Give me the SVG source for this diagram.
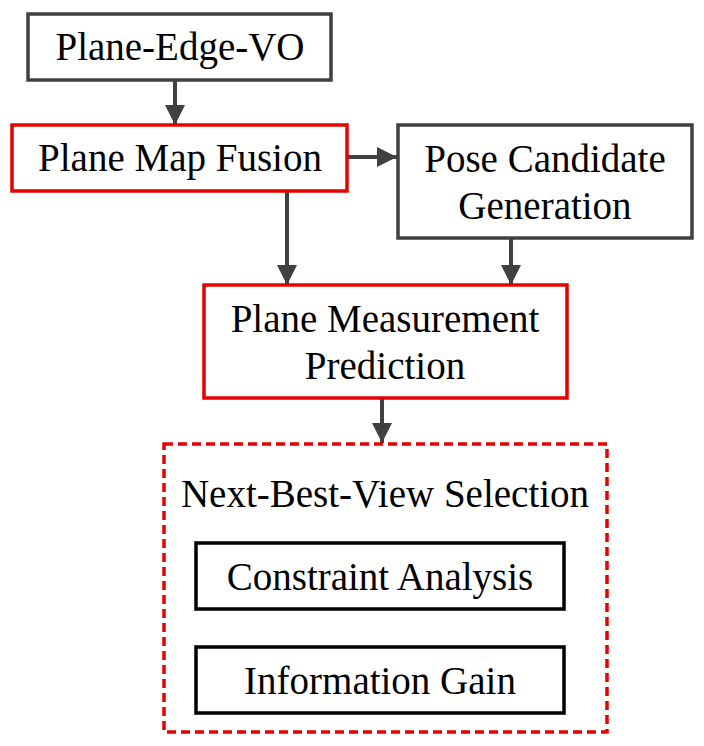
<svg xmlns="http://www.w3.org/2000/svg" width="704" height="746" viewBox="0 0 704 746">
<style>
text{font-family:"Liberation Serif","Times New Roman",serif;font-size:39px;fill:#000;text-anchor:middle}
.gray{fill:#fff;stroke:#404040;stroke-width:3.5}
.red{fill:#fff;stroke:#e60000;stroke-width:3.5}
.blk{fill:#fff;stroke:#000;stroke-width:3.5}
.dash{fill:none;stroke:#e60000;stroke-width:3.5;stroke-dasharray:9 5}
.conn{stroke:#404040;stroke-width:4;fill:none;marker-end:url(#ah)}
</style>
<defs>
<marker id="ah" markerUnits="userSpaceOnUse" markerWidth="20" markerHeight="20" refX="20" refY="10" orient="auto">
<path d="M0,0 L20,10 L0,20 Z" fill="#404040"/>
</marker>
</defs>
<rect width="704" height="746" fill="#fff"/>
<g id="connectors">
<line class="conn" x1="175" y1="80" x2="175" y2="125"/>
<line class="conn" x1="348" y1="157" x2="397" y2="157"/>
<line class="conn" x1="287" y1="191" x2="287" y2="285"/>
<line class="conn" x1="511" y1="238" x2="511" y2="285"/>
<line class="conn" x1="382" y1="398" x2="382" y2="443"/>
</g>
<g id="plane-edge-vo">
<rect class="gray" x="28" y="14" width="303" height="66"/>
<text x="180" y="60">Plane-Edge-VO</text>
</g>
<g id="plane-map-fusion">
<rect class="red" x="12" y="125" width="335" height="66"/>
<text x="180" y="171">Plane Map Fusion</text>
</g>
<g id="pose-candidate-generation">
<rect class="gray" x="398" y="125" width="294" height="113"/>
<text x="545" y="172">Pose Candidate</text>
<text x="545" y="219">Generation</text>
</g>
<g id="plane-measurement-prediction">
<rect class="red" x="204" y="285" width="363" height="113"/>
<text x="385" y="332">Plane Measurement</text>
<text x="385" y="379">Prediction</text>
</g>
<g id="next-best-view-selection">
<rect class="dash" x="164" y="444" width="443" height="288"/>
<text x="385" y="507">Next-Best-View Selection</text>
</g>
<g id="constraint-analysis">
<rect class="blk" x="196" y="543" width="368" height="66"/>
<text x="380" y="590">Constraint Analysis</text>
</g>
<g id="information-gain">
<rect class="blk" x="196" y="647" width="368" height="66"/>
<text x="380" y="694">Information Gain</text>
</g>
</svg>
